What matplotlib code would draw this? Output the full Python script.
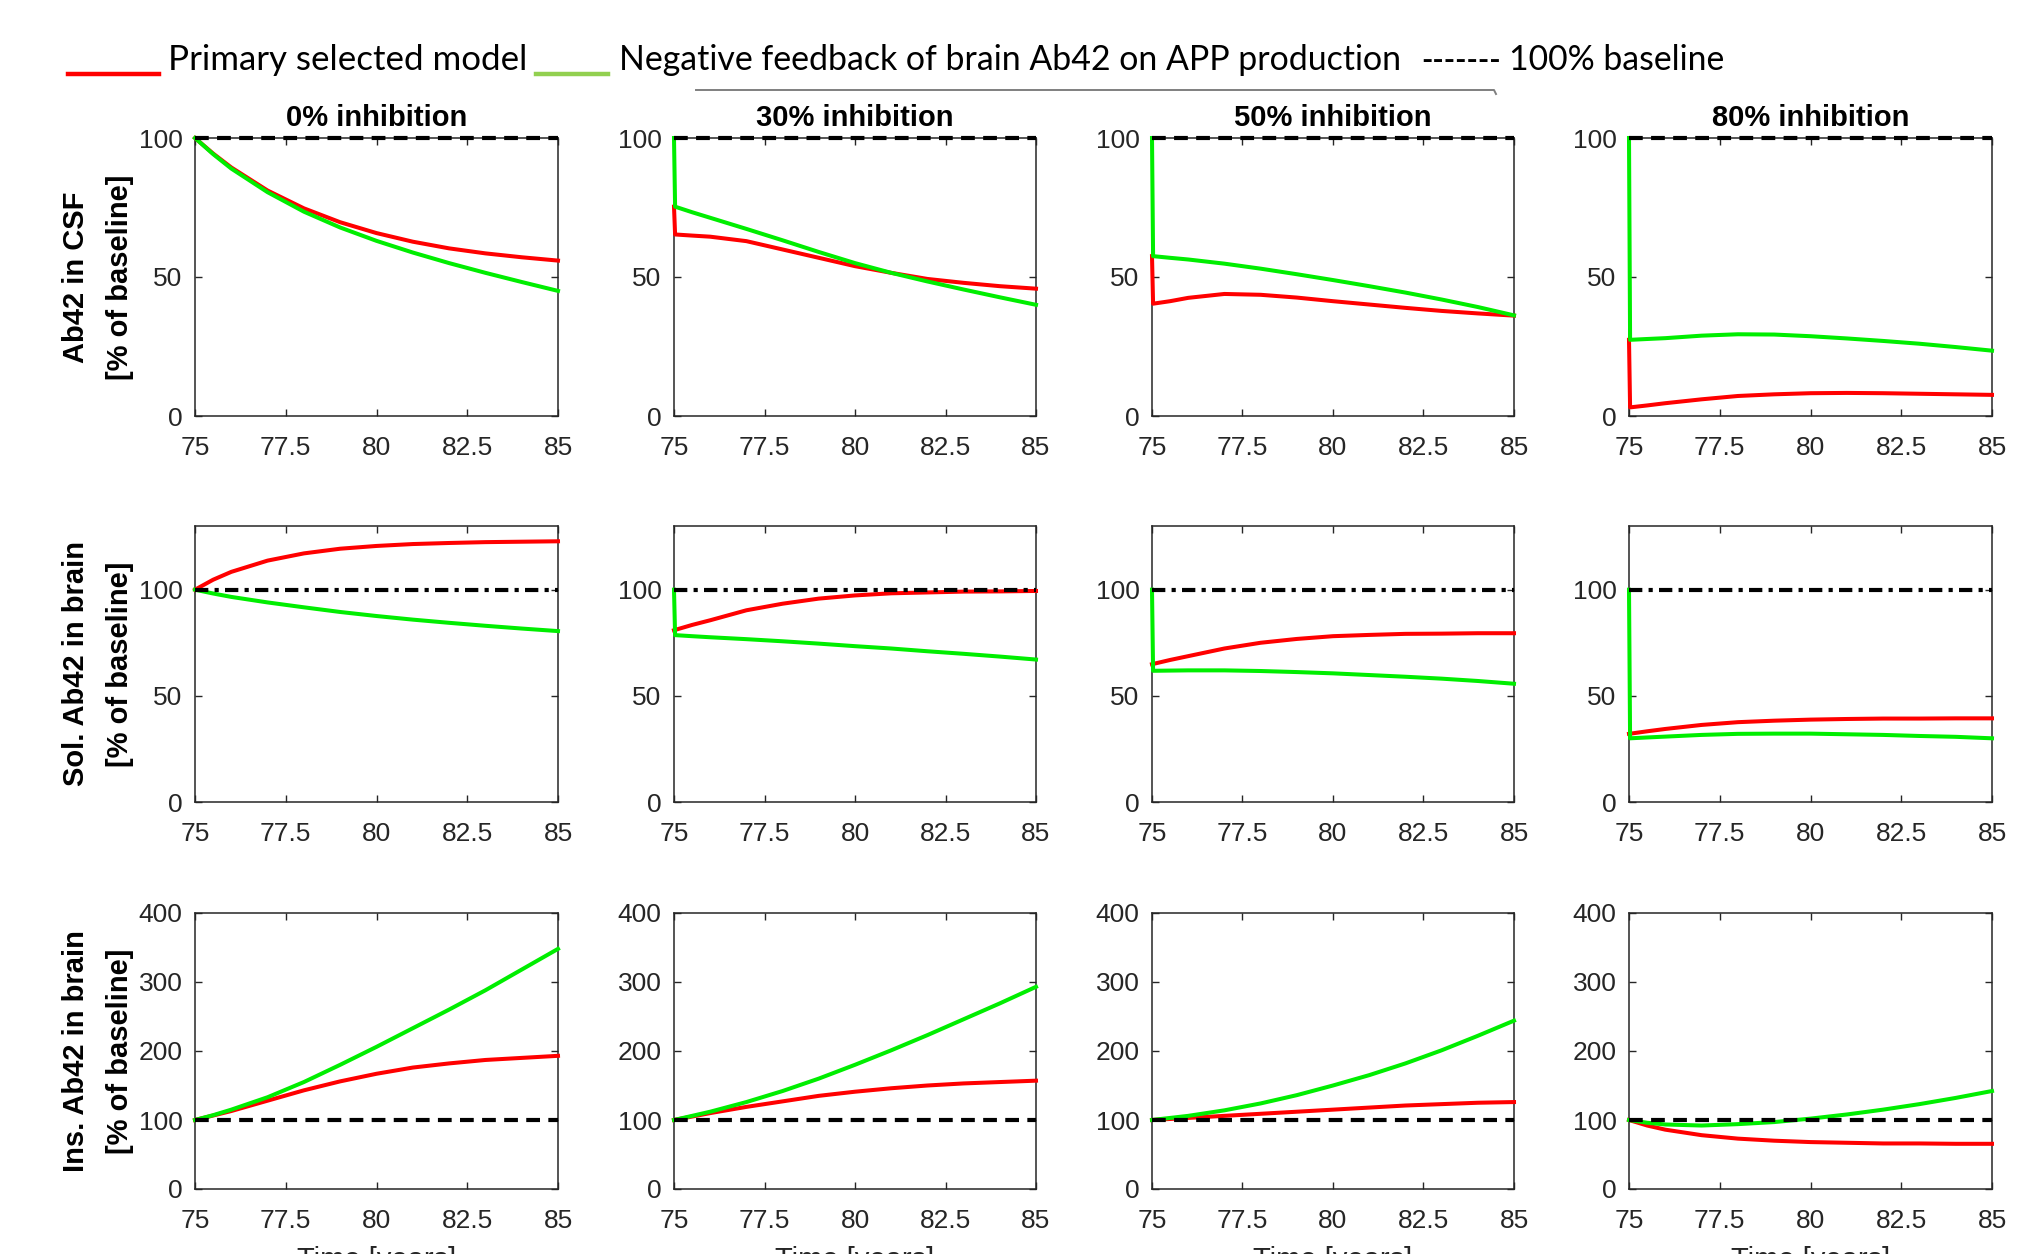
import matplotlib
matplotlib.use('Agg')
import matplotlib.pyplot as plt
from matplotlib.lines import Line2D

W, H = 2040, 1254
DPI = 100

# ---------------- data ----------------
TIME = [75, 75.5, 76, 77, 78, 79, 80, 81, 82, 83, 84, 85]
JUMP_T = 75.03   # time right after the instantaneous drop at treatment start

INHIBITION = ['0% inhibition', '30% inhibition', '50% inhibition', '80% inhibition']
ROW_LABELS = [('Ab42 in CSF', '[% of baseline]'),
              ('Sol. Ab42 in brain', '[% of baseline]'),
              ('Ins. Ab42 in brain', '[% of baseline]')]
X_TICKS = [75, 77.5, 80, 82.5, 85]
X_TICKLABELS = ['75', '77.5', '80', '82.5', '85']
Y_TICKS = [[0, 50, 100], [0, 50, 100], [0, 100, 200, 300, 400]]
Y_LIMITS = [(0, 100), (0, 130), (0, 400)]
BASELINE = 100
X_LABEL = 'Time [years]'

LEGEND_PRIMARY = 'Primary selected model'
LEGEND_FEEDBACK = 'Negative feedback of brain Ab42 on APP production'
LEGEND_BASE_DASH = '-------'
LEGEND_BASE = '100% baseline'

# Values at TIME. A series with 13 values starts with the value at t=75
# just before the jump, followed by the value right after the jump.
csf_primary = [
    [100, 94.4, 89.4, 81.1, 74.7, 69.7, 65.8, 62.7, 60.3, 58.5, 57.1, 55.9],
    [75.3, 65.3, 64.9, 64.5, 62.9, 59.9, 56.9, 53.9, 51.5, 49.3, 47.9, 46.7, 45.8],
    [57.5, 40.4, 41.3, 42.5, 43.9, 43.6, 42.6, 41.3, 40.1, 38.9, 37.8, 36.9, 36.1],
    [27.4, 3.1, 3.8, 4.6, 6.0, 7.2, 7.8, 8.2, 8.3, 8.2, 8.0, 7.8, 7.6],
]
csf_feedback = [
    [100, 94.2, 89.0, 80.5, 73.5, 67.8, 63.0, 58.8, 55.0, 51.5, 48.2, 45.0],
    [100, 75.3, 73.3, 71.3, 67.3, 63.2, 59.0, 55.0, 51.5, 48.4, 45.5, 42.7, 40.0],
    [100, 57.5, 56.9, 56.3, 54.8, 53.0, 51.0, 48.9, 46.7, 44.4, 41.9, 39.2, 36.2],
    [100, 27.4, 27.7, 28.0, 28.9, 29.4, 29.3, 28.7, 27.9, 27.0, 26.0, 24.8, 23.5],
]
sol_primary = [
    [100, 104.7, 108.4, 113.7, 117.1, 119.3, 120.6, 121.5, 122.0, 122.4, 122.6, 122.8],
    [80.9, 83.4, 85.6, 90.3, 93.4, 95.8, 97.3, 98.3, 98.7, 99.1, 99.2, 99.4],
    [64.9, 66.9, 68.7, 72.3, 75.0, 76.8, 78.1, 78.7, 79.2, 79.3, 79.5, 79.5],
    [32.1, 33.3, 34.4, 36.3, 37.6, 38.3, 38.8, 39.1, 39.3, 39.3, 39.4, 39.4],
]
sol_feedback = [
    [100, 98.2, 96.6, 94.0, 91.7, 89.5, 87.6, 85.9, 84.4, 83.0, 81.7, 80.5],
    [100, 78.6, 78.1, 77.6, 76.7, 75.7, 74.6, 73.4, 72.3, 71.0, 69.8, 68.5, 67.1],
    [100, 61.8, 61.9, 62.0, 62.0, 61.7, 61.2, 60.6, 59.8, 59.0, 58.1, 57.0, 55.7],
    [100, 30.0, 30.4, 30.8, 31.6, 32.1, 32.2, 32.2, 31.9, 31.6, 31.1, 30.7, 30.0],
]
ins_primary = [
    [100, 106.5, 113, 128, 143, 156, 167, 176, 182, 187, 190, 193],
    [100, 105, 110, 119, 127, 135, 141, 146, 150, 153, 155, 157],
    [100, 101.5, 103, 106, 109, 112, 115, 118, 121, 123, 125, 126],
    [100, 92, 86, 78, 73, 70, 68, 67, 66, 66, 65.5, 65.5],
]
ins_feedback = [
    [100, 107, 115, 133, 155, 180, 206, 233, 260, 288, 318, 348],
    [100, 106, 112, 126, 142, 160, 180, 201, 223, 246, 269, 293],
    [100, 103, 106, 114, 124, 136, 150, 165, 182, 201, 222, 244],
    [100, 96, 93.5, 92, 94, 97, 102, 108, 115, 123, 132, 142],
]
PRIMARY = [csf_primary, sol_primary, ins_primary]
FEEDBACK = [csf_feedback, sol_feedback, ins_feedback]

# ---------------- style ----------------
RED = '#ff0000'
GREEN = '#00ee00'
LEG_GREEN = '#92d050'
AX_COLOR = '#262626'
TICK_FONT = 'Liberation Sans'
LEG_FONT = 'Lato'

COL_X = [(195, 558), (674, 1036), (1152, 1514), (1629, 1992)]
ROW_Y = [(138, 416), (526, 802), (913, 1189)]


def times_for(vals):
    if len(vals) == len(TIME) + 1:
        return [TIME[0], JUMP_T] + TIME[1:]
    return TIME


fig = plt.figure(figsize=(W / DPI, H / DPI), dpi=DPI)

for r, (yt, yb) in enumerate(ROW_Y):
    for c, (xl, xr) in enumerate(COL_X):
        ax = fig.add_axes([xl / W, 1 - yb / H, (xr - xl) / W, (yb - yt) / H])
        p = PRIMARY[r][c]
        f = FEEDBACK[r][c]
        ax.plot(times_for(p), p, color=RED, lw=2.9, clip_on=False, zorder=3,
                solid_joinstyle='round')
        ax.plot(times_for(f), f, color=GREEN, lw=2.9, clip_on=False, zorder=4,
                solid_joinstyle='round')
        if r == 1:
            ax.axhline(BASELINE, color='black', lw=3.0, dashes=(3.2, 1.5, 1.0, 1.5),
                       clip_on=False, zorder=5)
        else:
            ax.axhline(BASELINE, color='black', lw=3.0, dashes=(3.3, 2.0),
                       clip_on=False, zorder=5)
        ax.set_xlim(75, 85)
        ax.set_ylim(*Y_LIMITS[r])
        ax.set_xticks(X_TICKS)
        ax.set_xticklabels(X_TICKLABELS)
        ax.set_yticks(Y_TICKS[r])
        ax.set_yticklabels([str(v) for v in Y_TICKS[r]])
        ax.tick_params(direction='in', top=True, right=True, length=5, width=1.0,
                       color=AX_COLOR, labelcolor=AX_COLOR, labelsize=19)
        ax.tick_params(axis='x', pad=14.5)
        ax.tick_params(axis='y', pad=9)
        for lab in ax.get_xticklabels() + ax.get_yticklabels():
            lab.set_family(TICK_FONT)
        for s in ax.spines.values():
            s.set_color(AX_COLOR)
            s.set_linewidth(1.1)
        if r == 0:
            ax.set_title(INHIBITION[c], fontsize=21, fontweight='bold',
                         family=TICK_FONT, pad=8.5, color='black')
        if r == 2:
            xc = (xl + xr) / 2
            fig.text(xc / W, 1 - 1246 / H, X_LABEL, ha='center', va='top',
                     fontsize=21, family=TICK_FONT, color=AX_COLOR)
    yc = (yt + yb) / 2
    fig.text(76 / W, 1 - yc / H, ROW_LABELS[r][0], rotation=90, ha='center',
             va='center', fontsize=21, fontweight='bold', family=TICK_FONT)
    fig.text(120 / W, 1 - yc / H, ROW_LABELS[r][1], rotation=90, ha='center',
             va='center', fontsize=21, fontweight='bold', family=TICK_FONT)

# ---------------- legend (overlay text) ----------------
renderer = fig.canvas.get_renderer()


def fit_text(x0, x1, y, s, weight='normal'):
    t = fig.text(x0 / W, 1 - y / H, s, fontsize=30, family=LEG_FONT,
                 fontweight=weight, ha='left', va='baseline', color='black')
    w = t.get_window_extent(renderer).width
    t.set_fontsize(30 * (x1 - x0) / w)
    return t


LEG_BASE_Y = 70
fit_text(168, 526, LEG_BASE_Y, LEGEND_PRIMARY)
fit_text(619, 1401, LEG_BASE_Y, LEGEND_FEEDBACK)
fit_text(1421, 1500, LEG_BASE_Y, LEGEND_BASE_DASH, weight='bold')
fit_text(1509, 1724, LEG_BASE_Y, LEGEND_BASE)

fig.add_artist(Line2D([68 / W, 159 / W], [1 - 74 / H, 1 - 74 / H], color=RED, lw=3.2))
fig.add_artist(Line2D([536 / W, 608 / W], [1 - 74 / H, 1 - 74 / H], color=LEG_GREEN, lw=3.2))
fig.add_artist(Line2D([696 / W, 1494 / W, 1496 / W], [1 - 90 / H, 1 - 90 / H, 1 - 94 / H],
                      color='#7f7f7f', lw=1.4))

fig.savefig('out.png', dpi=DPI, facecolor='white')
